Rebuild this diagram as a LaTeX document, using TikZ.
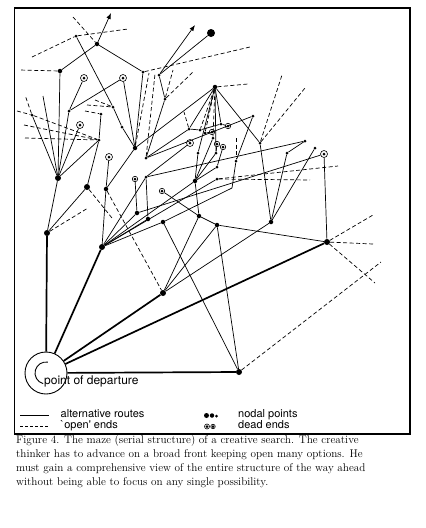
\documentclass[tikz,border=0pt]{standalone}
\usepackage{fontspec}
\newfontfamily\helv{TeX Gyre Heros}
\usetikzlibrary{arrows.meta}

\begin{document}
\begin{tikzpicture}[x=1pt,y=-1pt]
  \tikzstyle{nodal}=[circle,fill,inner sep=0pt,minimum size=3pt]
  \tikzstyle{nodalM}=[nodal,minimum size=4.5pt]
  \tikzstyle{nodalL}=[nodal,minimum size=6pt]
  \tikzstyle{deadend}=[circle,draw,line width=0.6pt,inner sep=0pt,minimum size=7pt,
    path picture={\fill (path picture bounding box.center) circle (1.5pt);}]
  \tikzstyle{deadendS}=[deadend,minimum size=5.5pt]
  \tikzstyle{route}=[line width=0.7pt]
  \tikzstyle{openend}=[line width=0.7pt,dash pattern=on 4pt off 2.5pt]
  \tikzstyle{mainroute}=[line width=1.7pt]
  \tikzstyle{legend}=[font=\helv\fontsize{11}{12}\selectfont,anchor=base west,inner sep=0pt]
  \tikzstyle{caption}=[font=\fontsize{11.2}{14}\selectfont,anchor=base west,inner sep=0pt]
  \useasboundingbox (0,0) rectangle (426,528);
  \draw[line width=1.1pt] (14.5,8) rectangle (410,434);

  % point of departure
  \node[circle,draw,line width=0.9pt,minimum size=42pt,inner sep=0pt] (root) at (46,373) {};
  \draw[line width=0.9pt] (root.center) ++(105:11) arc (105:280:11);
  \node[legend,font=\helv\fontsize{12}{12}\selectfont] (departure) at (44,384) {point of departure};

  % nodal points
  \foreach \n/\x/\y in {A/47/233,B/102/247,C/163/293,D/327/242,E/239/372,t15/58/178,t16/87/187}
    \node[nodalL] (\n) at (\x,\y) {};
  \foreach \n/\x/\y in {t1/97/44,t3/60/71,t14/135/148,t17/106/189,t20/137/213,t21/148/219,
      t22/163/222,H/215/87,m10/195/181,m15/199/216,m16/217/225,r4/271/222}
    \node[nodalM] (\n) at (\x,\y) {};
  \foreach \n/\x/\y in {t2/76/36,t4/143/72,t5/159/75,t6/165/99,t8/69/111,t9/101/114,t10/113/107,
      t11/99/140,t12/32/115,t13/122/127,t18/146/158,t19/146/177,m1/189/129,m2/200/130,
      m3/205/133,m4/221/124,m5/213/138,m6/198/153,m7/216/153,m8/236/161,m9/217/167,
      m11/217/179,m12/253/116,m13/260/143,r1/287/153,r2/305/141,r3/315/148}
    \node[nodal] (\n) at (\x,\y) {};
  \node[nodal,minimum size=8pt] (t7) at (211,33) {};

  % dead ends
  \foreach \n/\x/\y in {dd1/84/78,dd2/123/78,dd3/80/125,dd4/109/157,dd9/190/143,dd12/324/154}
    \node[deadend] (\n) at (\x,\y) {};
  \foreach \n/\x/\y in {dd5/135/179,dd6/162/191,dd7/212/132,dd8/228/126,dd10/217/144,dd11/223/147}
    \node[deadendS] (\n) at (\x,\y) {};

  % free ends
  \foreach \n/\x/\y in {a1/111/13,a2/195/25,o1/19/70,o2/32/57,o3/128/29,o4/73/17,o5/250/47,
      o6/173/70,o7/193/72,o8/155/74,o9/149/73,o10/25/95,o11/17/111,o12/24/125,o13/25/138,
      o14/95/100,o15/87/105,o16/85/111,o17/43/96,o18/88/208,o19/112/218,o20/248/84,
      o21/282/75,o22/305/88,o23/338/166,o24/310/180,o25/373/215,o26/373/244,o27/375/283,
      o28/381/262,o29/236/138,o30/184/112,k1/232/188}
    \coordinate (\n) at (\x,\y);

  % main routes
  \foreach \b in {A,B,C,D,E}
    \draw[mainroute] (root) -- (\b);

  % alternative routes
  \foreach \a/\b in {t1/t3,t1/t4,t2/t10,t10/t13,t13/t14,t3/t15,t4/t14,t7/t5,t5/t6,t6/t18,
      dd1/t8,dd2/t8,dd2/t14,t8/t15,t9/t11,t11/t15,dd3/t15,t12/t15,o17/t15,t15/A,A/t16,
      t11/t16,t14/t17,dd4/t17,t17/B,t14/H,t18/m1,t18/m12,B/t19,B/t20,B/t21,B/t22,B/m10,
      B/m11,dd5/t20,t19/t21,dd6/m15,t19/r2,t20/dd12,t22/k1,k1/m8,m8/m12,t22/E,C/m15,
      C/m16,C/r4,m15/m16,m16/D,m16/E,m10/m15,t19/dd9,H/m1,H/m4,H/m6,H/m7,H/m13,m1/m2,
      m2/m4,m10/m6,m10/m5,m10/m7,m10/m9,m3/dd7,m7/dd10,m9/dd11,m4/dd8,m13/r4,r4/r1,
      r4/r3,r1/r2,dd12/D}
    \draw[route] (\a) -- (\b);
  \draw[route,-{Latex[length=6pt,width=4.5pt]}] (t1) -- (a1);
  \draw[route,-{Latex[length=6pt,width=4.5pt]}] (t5) -- (a2);

  % open ends
  \foreach \a/\b in {t3/o1,o2/t2,t2/o3,o4/t1,t4/o5,t6/o6,t6/o7,t18/o8,t14/o9,t12/o10,
      o11/t12,t12/t11,o12/t11,o13/t11,o14/t10,o15/t10,o16/t9,A/o18,t16/o19,t17/C,H/o20,
      m13/o21,m13/o22,m11/o23,m11/o24,D/o25,D/o26,D/o27,E/o28,o29/m8,H/m2,H/m3,H/m5,m1/o30}
    \draw[openend] (\a) -- (\b);

  % legend
  \draw[route,line width=0.9pt] (20,415.5) -- (49,415.5);
  \draw[openend,line width=0.9pt,dash pattern=on 3pt off 2pt] (20,426.5) -- (49,426.5);
  \node[legend] (lalt) at (60.5,417.5) {alternative routes};
  \node[legend] (lopen) at (60.5,428) {`open' ends};
  \node[nodal,minimum size=5pt] (ln1) at (206.5,415.5) {};
  \node[nodal,minimum size=4.5pt] (ln2) at (212,415.5) {};
  \node[nodal,minimum size=3pt] (ln3) at (216.5,416) {};
  \node[deadendS,minimum size=5pt] (ld1) at (207,426.5) {};
  \node[deadendS,minimum size=4.5pt] (ld2) at (213,426.5) {};
  \node[legend] (lnodal) at (238,417.5) {nodal points};
  \node[legend] (ldead) at (238,428) {dead ends};

  % caption
  \node[caption] (cap1) at (16,443.5) {Figure 4. The maze (serial structure) of a creative search. The creative};
  \node[caption] (cap2) at (16,457.5) {thinker has to advance on a broad front keeping open many options. He};
  \node[caption] (cap3) at (16,471.5) {must gain a comprehensive view of the entire structure of the way ahead};
  \node[caption] (cap4) at (16,485.5) {without being able to focus on any single possibility.};
\end{tikzpicture}
\end{document}
